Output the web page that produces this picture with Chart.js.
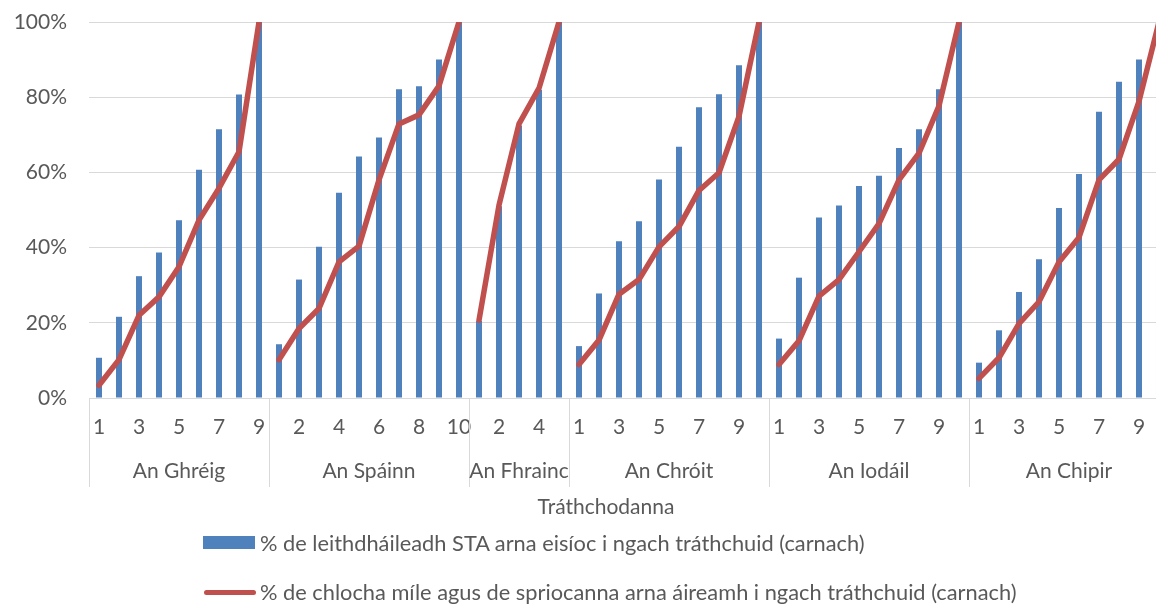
<!DOCTYPE html>
<html>
<head>
<meta charset="utf-8">
<script src="https://cdn.jsdelivr.net/npm/chart.js@4/dist/chart.umd.min.js"></script>
<style>
  body { margin: 0; overflow: hidden; background: #fff; }
  #wrap { position: absolute; left: 0; top: 0; width: 1176px; height: 605px; }
  .leg { position: absolute; left: 201px; font-family: Lato, sans-serif; font-size: 21.8px; color: #595959; white-space: nowrap; }
  .leg span { position: absolute; }
</style>
</head>
<body>
<div id="wrap"><canvas id="myChart" width="1176" height="605"></canvas></div>
<div class="leg" id="leg1" style="top:531px"></div>
<div class="leg" id="leg2" style="top:580px"></div>
<script>
const countries = ['An Ghréig', 'An Spáinn', 'An Fhrainc', 'An Chróit', 'An Iodáil', 'An Chipir'];

// % of allocation issued per instalment (cumulative)
const greeceIssued = [10.7, 21.6, 32.4, 38.7, 47.3, 60.7, 71.5, 80.7, 100];
const spainIssued = [14.3, 31.5, 40.2, 54.6, 64.2, 69.3, 82.1, 82.9, 90.0, 100];
const franceIssued = [20.5, 51, 72.5, 82, 100];
const croatiaIssued = [13.8, 27.8, 41.7, 47.0, 58.1, 66.8, 77.3, 80.8, 88.5, 100];
const italyIssued = [15.8, 32.0, 48.0, 51.2, 56.4, 59.1, 66.5, 71.5, 82.1, 100];
const cyprusIssued = [9.4, 18.0, 28.2, 36.9, 50.5, 59.6, 76.1, 84.1, 90.0, 100];

// % of milestones and targets counted per instalment (cumulative)
const greeceMilestones = [3.4, 10.2, 22.0, 26.9, 34.9, 47.3, 55.8, 65.5, 100];
const spainMilestones = [10.2, 18.5, 23.8, 36.2, 40.4, 58.0, 72.9, 75.3, 83.0, 100];
const franceMilestones = [20.7, 51.3, 72.9, 82.4, 100];
const croatiaMilestones = [8.9, 15.4, 27.6, 31.5, 40.2, 45.6, 55.2, 59.9, 74.9, 100];
const italyMilestones = [8.9, 15.2, 27.1, 31.5, 38.9, 46.4, 58.0, 65.1, 77.7, 100];
const cyprusMilestones = [5.2, 10.7, 19.8, 25.6, 36.2, 42.7, 58.0, 63.5, 78.9, 100];

const yTicks = [0, 20, 40, 60, 80, 100];

const issuedLabel = '% de leithdháileadh STA arna eisíoc i ngach tráthchuid (carnach)';
const milestoneLabel = '% de chlocha míle agus de spriocanna arna áireamh i ngach tráthchuid (carnach)';
const blue = '#4f81bd';
const red = '#c0504d';
const grey = '#595959';
const font = 'Lato, sans-serif';

const issuedGroups = [greeceIssued, spainIssued, franceIssued, croatiaIssued, italyIssued, cyprusIssued];
const milestoneGroups = [greeceMilestones, spainMilestones, franceMilestones, croatiaMilestones, italyMilestones, cyprusMilestones];

// flatten groups into one category axis
var labels = [];
var groupStart = [];
issuedGroups.forEach(function (g) {
  groupStart.push(labels.length);
  g.forEach(function (v, i) { labels.push(String(i + 1)); });
});
groupStart.push(labels.length);
const issued = [].concat(...issuedGroups);
const milestones = [].concat(...milestoneGroups);

const groupAxis = {
  id: 'groupAxis',
  afterDraw(chart) {
    const ctx = chart.ctx;
    const x = chart.scales.x;
    const area = chart.chartArea;
    const half = (x.getPixelForValue(1) - x.getPixelForValue(0)) / 2;
    ctx.save();
    ctx.strokeStyle = '#d9d9d9';
    ctx.lineWidth = 1;
    groupStart.forEach(function (s) {
      const px = Math.round(x.getPixelForValue(s) - half) + 0.5;
      ctx.beginPath();
      ctx.moveTo(px, area.bottom);
      ctx.lineTo(px, 487);
      ctx.stroke();
    });
    ctx.fillStyle = grey;
    ctx.font = '21px ' + font;
    ctx.textAlign = 'center';
    ctx.textBaseline = 'middle';
    countries.forEach(function (c, i) {
      const a = x.getPixelForValue(groupStart[i]) - half;
      const b = x.getPixelForValue(groupStart[i + 1]) - half;
      ctx.fillText(c, (a + b) / 2, 471);
    });
    ctx.fillText('Tráthchodanna', 606, 507);
    ctx.restore();
  }
};

var ctx = document.getElementById('myChart').getContext('2d');
var myChart = new Chart(ctx, {
  data: {
    labels: labels,
    datasets: [{
      type: 'line',
      label: milestoneLabel,
      data: milestones,
      borderColor: red,
      borderWidth: 5.5,
      borderCapStyle: 'round',
      borderJoinStyle: 'round',
      pointRadius: 0,
      tension: 0,
      clip: 0,
      order: 0,
      segment: {
        borderColor: function (c) {
          return groupStart.indexOf(c.p1DataIndex) > 0 ? 'rgba(0,0,0,0)' : undefined;
        }
      }
    }, {
      type: 'bar',
      label: issuedLabel,
      data: issued,
      backgroundColor: blue,
      barPercentage: 0.3,
      categoryPercentage: 1,
      order: 1
    }]
  },
  options: {
    responsive: false,
    animation: false,
    layout: { padding: { top: 22, right: 1, left: 0, bottom: 0 } },
    plugins: { legend: { display: false }, tooltip: { enabled: false } },
    scales: {
      x: {
        grid: { display: false, drawTicks: false },
        border: { display: true, color: '#d9d9d9' },
        ticks: {
          autoSkip: false,
          maxRotation: 0,
          padding: 17,
          color: grey,
          font: { family: font, size: 21 },
          callback: function (v, i) { return i % 2 === 0 ? labels[i] : ''; }
        },
        afterFit: function (s) { s.height = 207; }
      },
      y: {
        min: 0,
        max: 100,
        afterBuildTicks: function (s) { s.ticks = yTicks.map(function (v) { return { value: v }; }); },
        grid: { color: '#d9d9d9', drawTicks: false },
        border: { display: false },
        ticks: {
          padding: 22,
          color: grey,
          font: { family: font, size: 21 },
          callback: function (v) { return v + '%'; }
        },
        afterFit: function (s) {
          s.width = 89;
          s.paddingTop = 0;
          s.paddingBottom = 0;
        }
      }
    }
  },
  plugins: [groupAxis]
});

// legend, two stacked rows as in the original
document.getElementById('leg1').innerHTML =
  '<span style="left:2px;top:5px;width:52px;height:13px;background:' + blue + '"></span>' +
  '<span style="left:59px;top:0;line-height:24px">' + issuedLabel + '</span>';
document.getElementById('leg2').innerHTML =
  '<span style="left:3px;top:10px;width:52px;height:0;border-top:5.5px solid ' + red + ';border-radius:3px"></span>' +
  '<span style="left:59px;top:0;line-height:24px">' + milestoneLabel + '</span>';
</script>
</body>
</html>
